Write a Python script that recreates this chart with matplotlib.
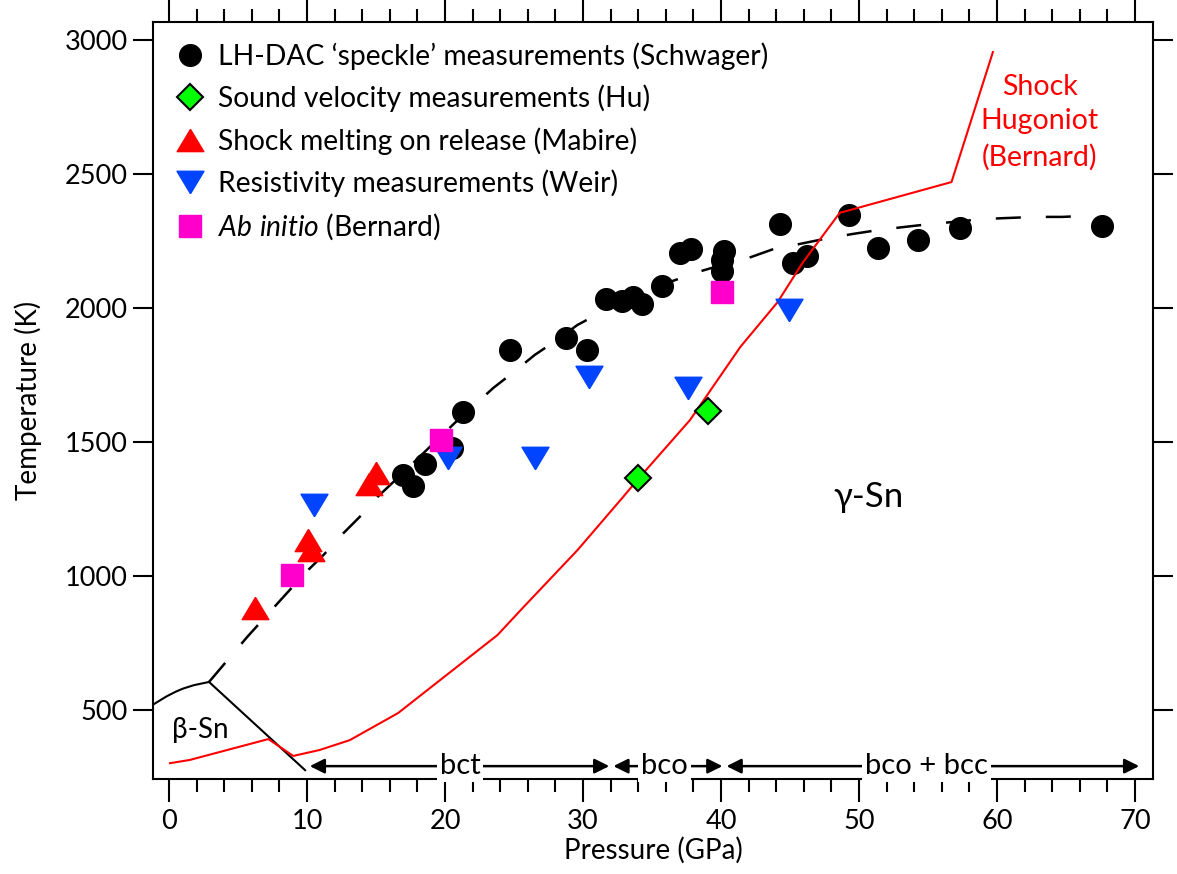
import matplotlib.pyplot as plt
from matplotlib.ticker import MultipleLocator
from matplotlib.lines import Line2D

plt.rcParams['font.family'] = ['Lato', 'DejaVu Sans']
plt.rcParams['mathtext.fontset'] = 'custom'
plt.rcParams['mathtext.it'] = 'Lato:italic'
plt.rcParams['mathtext.rm'] = 'Lato'

# LH-DAC speckle (Schwager)
schwager_P = [16.96, 17.68, 18.55, 20.5, 21.3, 24.7, 28.8, 30.3, 31.7, 32.8, 33.6, 34.3,
              35.7, 37.0, 37.8, 40.2, 40.1, 40.1, 44.3, 45.2, 46.2, 49.3, 51.4, 54.3, 57.3, 67.6]
schwager_T = [1377, 1336, 1418, 1478, 1612, 1843, 1888, 1843, 2034, 2026, 2041, 2015,
              2082, 2205, 2220, 2213, 2179, 2138, 2313, 2168, 2194, 2347, 2224, 2254, 2299, 2306]

# sound velocity (Hu)
hu_P = [34.0, 39.06]
hu_T = [1366, 1616]

# shock melting on release (Mabire)
mabire_P = [6.2, 10.07, 10.3, 14.5, 15.0]
mabire_T = [881, 1134, 1097, 1343, 1384]

# resistivity (Weir)
weir_P = [10.5, 20.2, 26.5, 30.4, 37.6, 44.9]
weir_T = [1265, 1440, 1440, 1743, 1702, 1993]

# ab initio (Bernard)
bernard_P = [8.9, 19.7, 40.1]
bernard_T = [1004, 1508, 2060]

# dashed melting curve
melt_P = [2.9, 5.65, 7.3, 8.55, 9.85, 11.2, 12.5, 13.8, 15.1, 16.4, 20.7, 23.5, 24.9, 26.5,
          27.8, 29.6, 31.2, 36.5, 38.3, 40.8, 42.0, 43.8, 45.7, 47.5, 49.5, 51.4, 53.2,
          55.1, 56.8, 59.0, 60.8, 62.8, 64.7, 67.0]
melt_T = [605, 772, 866, 937, 1011, 1079, 1153, 1220, 1295, 1358, 1571, 1702, 1758, 1825,
          1870, 1937, 1981, 2101, 2134, 2172, 2187, 2220, 2239, 2258, 2276, 2291, 2302,
          2313, 2321, 2332, 2336, 2340, 2340, 2345]

# shock Hugoniot (Bernard)
hug_P = [0.07, 1.5, 7.2, 9.0, 10.9, 13.1, 16.6, 23.8, 25.7, 29.6, 32.9, 34.06, 37.75,
         41.4, 44.1, 45.9, 48.6, 56.7, 59.7]
hug_T = [302, 314, 392, 329, 351, 388, 489, 780, 885, 1097, 1295, 1366, 1582,
         1855, 2022, 2168, 2355, 2470, 2955]

# beta-Sn boundaries
beta_melt_P = [-1.2, -0.6, -0.15, 0.5, 1.0, 1.8, 2.9]
beta_melt_T = [519, 538, 552, 569, 580, 593, 605]
beta_gamma_P = [2.9, 9.86]
beta_gamma_T = [605, 276]

# phase ranges along the bottom
phase_names = ['bct', 'bco', 'bco + bcc']
phase_start = [10.2, 32.2, 40.4]
phase_end = [31.9, 40.1, 70.3]
phase_mid = [21.1, 35.9, 54.9]
phase_T = 291

blue = '#0044FF'
magenta = '#FF00CC'
tri_up = [(0, 1), (-1.2, -1), (1.2, -1), (0, 1)]
tri_dn = [(0, -1), (-1.2, 1), (1.2, 1), (0, -1)]

fig = plt.figure(figsize=(11.77, 8.74), dpi=100)
ax = fig.add_axes([0.1300, 0.1087, 0.8496, 0.8661])

ax.plot(melt_P, melt_T, color='k', lw=1.8, dashes=(10, 10), zorder=2)
ax.plot(beta_melt_P, beta_melt_T, color='k', lw=1.5, zorder=2)
ax.plot(beta_gamma_P, beta_gamma_T, color='k', lw=1.5, zorder=2)

ax.plot(schwager_P, schwager_T, 'o', color='k', ms=15.6, zorder=3)
ax.plot(hug_P, hug_T, color='#FF0000', lw=1.5, zorder=4)
ax.plot(mabire_P, mabire_T, linestyle='none', marker=tri_up, color='#FF0000', ms=19.2, zorder=5)
ax.plot(weir_P, weir_T, linestyle='none', marker=tri_dn, color=blue, ms=19.4, zorder=5)
ax.plot(bernard_P, bernard_T, 's', color=magenta, ms=15.6, zorder=6)
ax.plot(hu_P, hu_T, 'D', mfc='#00FF00', mec='k', mew=1.5, ms=13.5, zorder=6)

for name, a, b, m in zip(phase_names, phase_start, phase_end, phase_mid):
    ax.annotate('', xy=(b, phase_T), xytext=(a, phase_T),
                arrowprops=dict(arrowstyle='<|-|>', color='k', lw=1.8,
                                mutation_scale=22, shrinkA=0, shrinkB=0))
    ax.text(m, phase_T, name, ha='center', va='center', fontsize=21,
            bbox=dict(facecolor='white', edgecolor='none', pad=2), zorder=7)

ax.text(2.25, 426, 'β-Sn', ha='center', va='center', fontsize=20)
ax.text(50.65, 1295, 'γ-Sn', ha='center', va='center', fontsize=25)
ax.text(63.1, 2694, 'Shock\nHugoniot\n(Bernard)', ha='center', va='center',
        fontsize=20.5, color='#FF0000', linespacing=1.42)

handles = [
    Line2D([], [], ls='none', marker='o', color='k', ms=15.6),
    Line2D([], [], ls='none', marker='D', mfc='#00FF00', mec='k', mew=1.5, ms=13.5),
    Line2D([], [], ls='none', marker=tri_up, color='#FF0000', ms=19.2),
    Line2D([], [], ls='none', marker=tri_dn, color=blue, ms=19.4),
    Line2D([], [], ls='none', marker='s', color=magenta, ms=15.6),
]
labels = ['LH-DAC \u2018speckle\u2019 measurements (Schwager)',
          'Sound velocity measurements (Hu)',
          'Shock melting on release (Mabire)',
          'Resistivity measurements (Weir)',
          r'$\mathit{Ab\ initio}$ (Bernard)']
ax.legend(handles, labels, loc='upper left', bbox_to_anchor=(0.023, 0.973),
          frameon=False, fontsize=20.3, handlelength=1.0, handletextpad=0.5,
          labelspacing=0.52, borderpad=0, borderaxespad=0)

ax.set_xlim(-1.16, 71.3)
ax.set_ylim(243, 3067)
ax.xaxis.set_major_locator(MultipleLocator(10))
ax.xaxis.set_minor_locator(MultipleLocator(2))
ax.set_yticks([500, 1000, 1500, 2000, 2500, 3000])

ax.tick_params(axis='x', which='major', direction='out', length=16.5, width=1.5,
               top=True, labelsize=19.5, pad=5)
ax.tick_params(axis='x', which='minor', direction='out', length=9.4, width=1.5, top=True)
ax.tick_params(axis='y', which='major', direction='out', length=14.4, width=1.5,
               right=True, labelsize=19.5, pad=4)
for s in ax.spines.values():
    s.set_linewidth(1.5)

ax.set_xlabel('Pressure (GPa)', fontsize=20)
ax.set_ylabel('Temperature (K)', fontsize=20)
ax.xaxis.set_label_coords(0.5, -0.077)
ax.yaxis.set_label_coords(-0.111, 0.5)

fig.savefig('out.png', dpi=100)
